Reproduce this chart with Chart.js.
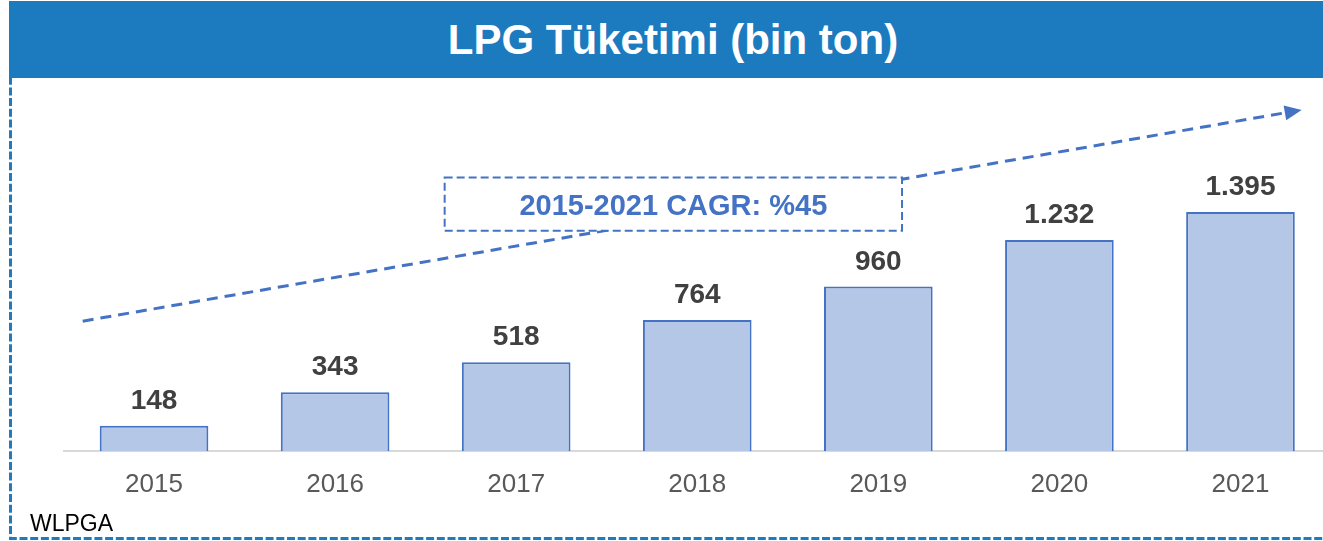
<!DOCTYPE html>
<html>
<head>
<meta charset="utf-8">
<script src="https://cdn.jsdelivr.net/npm/chart.js@4/dist/chart.umd.min.js"></script>
<style>
  html, body { margin: 0; padding: 0; overflow: hidden; background: #ffffff; }
  #wrap { position: relative; width: 1323px; height: 541px; overflow: hidden; }
  #chart { position: absolute; left: 0; top: 0; }
  #header {
    position: absolute; left: 9px; top: 1px; width: 1328px; height: 77px;
    background: #1C7BBE; color: #ffffff; z-index: 2;
    font: bold 42px "Liberation Sans", Arial, sans-serif;
    text-align: center; line-height: 77px; white-space: nowrap;
  }
  #source {
    position: absolute; left: 30px; top: 512px; z-index: 2;
    font: 23px "Liberation Sans", Arial, sans-serif; line-height: 23px; color: #000000;
  }
</style>
</head>
<body>
<div id="wrap">
  <canvas id="chart" width="1340" height="541"></canvas>
  <div id="header">LPG Tüketimi (bin ton)</div>
  <div id="source">WLPGA</div>
</div>
<script>
// ---- data ----
const categories = ['2015', '2016', '2017', '2018', '2019', '2020', '2021'];
const consumption = [148, 343, 518, 764, 960, 1232, 1395];
const yMax = 2100;
const cagrText = '2015-2021 CAGR: %45';
// trend arrow and CAGR box expressed in scale units (category index, value)
const trendFrom = [-0.394, 758];
const trendTo = [6.338, 1991];
const cagrBoxX = [1.605, 4.131];
const cagrBoxY = [1597, 1286];

const FONT = '"Liberation Sans", Arial, sans-serif';
const fmt = n => String(n).replace(/\B(?=(\d{3})+(?!\d))/g, '.');

const decorPlugin = {
  id: 'decor',
  beforeDraw(chart) {
    const ctx = chart.ctx;
    ctx.save();
    ctx.strokeStyle = '#1F7BC0';
    ctx.lineWidth = 3;
    ctx.setLineDash([8, 2.7]);
    ctx.beginPath();
    ctx.moveTo(10.5, 66);
    ctx.lineTo(10.5, 538.5);
    ctx.lineTo(1345, 538.5);
    ctx.stroke();
    ctx.restore();
  },
  afterDatasetsDraw(chart) {
    const ctx = chart.ctx;
    const xs = chart.scales.x, ys = chart.scales.y;
    // value labels
    const meta = chart.getDatasetMeta(0);
    ctx.save();
    ctx.fillStyle = '#404040';
    ctx.font = 'bold 28px ' + FONT;
    ctx.textAlign = 'center';
    ctx.textBaseline = 'alphabetic';
    meta.data.forEach((bar, i) => {
      ctx.fillText(fmt(consumption[i]), bar.x, bar.y - 17);
    });
    ctx.restore();

    // trend arrow
    const x1 = xs.getPixelForValue(trendFrom[0]), y1 = ys.getPixelForValue(trendFrom[1]);
    const x2 = xs.getPixelForValue(trendTo[0]), y2 = ys.getPixelForValue(trendTo[1]);
    const ang = Math.atan2(y2 - y1, x2 - x1);
    const headLen = 17, headHalf = 7.5;
    const bx = x2 - headLen * Math.cos(ang), by = y2 - headLen * Math.sin(ang);
    ctx.save();
    ctx.strokeStyle = '#4472C4';
    ctx.fillStyle = '#4472C4';
    ctx.lineWidth = 3;
    ctx.setLineDash([11, 7]);
    ctx.beginPath();
    ctx.moveTo(x1, y1);
    ctx.lineTo(bx, by);
    ctx.stroke();
    ctx.setLineDash([]);
    ctx.beginPath();
    ctx.moveTo(x2, y2);
    ctx.lineTo(bx + headHalf * Math.sin(ang), by - headHalf * Math.cos(ang));
    ctx.lineTo(bx - headHalf * Math.sin(ang), by + headHalf * Math.cos(ang));
    ctx.closePath();
    ctx.fill();
    ctx.restore();

    // CAGR box
    const l = xs.getPixelForValue(cagrBoxX[0]), r = xs.getPixelForValue(cagrBoxX[1]);
    const t = ys.getPixelForValue(cagrBoxY[0]), b = ys.getPixelForValue(cagrBoxY[1]);
    ctx.save();
    ctx.fillStyle = '#ffffff';
    ctx.fillRect(l, t, r - l, b - t);
    ctx.strokeStyle = '#4472C4';
    ctx.lineWidth = 2;
    ctx.setLineDash([8, 4]);
    ctx.strokeRect(l, t, r - l, b - t);
    ctx.fillStyle = '#4472C4';
    ctx.font = 'bold 29px ' + FONT;
    ctx.textAlign = 'center';
    ctx.textBaseline = 'alphabetic';
    ctx.fillText(cagrText, (l + r) / 2, (t + b) / 2 + 11);
    ctx.restore();
  }
};

new Chart(document.getElementById('chart'), {
  type: 'bar',
  data: {
    labels: categories,
    datasets: [{
      data: consumption,
      backgroundColor: '#B4C7E7',
      borderColor: '#4472C4',
      borderWidth: 2,
      barPercentage: 0.6,
      categoryPercentage: 1.0
    }]
  },
  options: {
    responsive: false,
    animation: false,
    layout: { padding: { left: 63.5, right: 9, top: 91.25, bottom: 30.8 } },
    scales: {
      x: {
        grid: { display: false },
        border: { display: true, color: '#D9D9D9', width: 2 },
        ticks: { color: '#595959', font: { family: FONT, size: 26 }, padding: 10 }
      },
      y: { display: false, min: 0, max: yMax }
    },
    plugins: { legend: { display: false }, tooltip: { enabled: false } }
  },
  plugins: [decorPlugin]
});
</script>
</body>
</html>
